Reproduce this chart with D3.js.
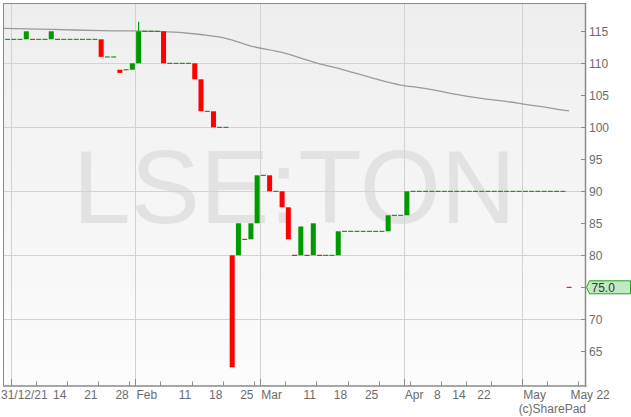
<!DOCTYPE html>
<html><head><meta charset="utf-8">
<script src="https://cdn.jsdelivr.net/npm/d3@7"></script>
<style>
body{margin:0;background:#fff;}
svg{display:block;font-family:"Liberation Sans",Arial,sans-serif;}
</style>
</head><body>
<svg id="chart" width="631" height="417"></svg>
<script>
// ---- data ----
const dates = ["2021-12-31",
"2022-01-04","2022-01-05","2022-01-06","2022-01-07","2022-01-10","2022-01-11","2022-01-12","2022-01-13","2022-01-14","2022-01-17","2022-01-18","2022-01-19","2022-01-20","2022-01-21","2022-01-24","2022-01-25","2022-01-26","2022-01-27","2022-01-28","2022-01-31",
"2022-02-01","2022-02-02","2022-02-03","2022-02-04","2022-02-07","2022-02-08","2022-02-09","2022-02-10","2022-02-11","2022-02-14","2022-02-15","2022-02-16","2022-02-17","2022-02-18","2022-02-21","2022-02-22","2022-02-23","2022-02-24","2022-02-25","2022-02-28",
"2022-03-01","2022-03-02","2022-03-03","2022-03-04","2022-03-07","2022-03-08","2022-03-09","2022-03-10","2022-03-11","2022-03-14","2022-03-15","2022-03-16","2022-03-17","2022-03-18","2022-03-21","2022-03-22","2022-03-23","2022-03-24","2022-03-25","2022-03-28","2022-03-29","2022-03-30","2022-03-31",
"2022-04-01","2022-04-04","2022-04-05","2022-04-06","2022-04-07","2022-04-08","2022-04-11","2022-04-12","2022-04-13","2022-04-14","2022-04-19","2022-04-20","2022-04-21","2022-04-22","2022-04-25","2022-04-26","2022-04-27","2022-04-28","2022-04-29",
"2022-05-03","2022-05-04","2022-05-05","2022-05-06","2022-05-09","2022-05-10","2022-05-11","2022-05-12"];

const opens = [113.75,113.75,113.75,113.75,113.75,113.75,113.75,113.75,113.75,113.75,
113.75,113.75,113.75,113.75,113.75,113.75,111,111,109,109,
109,110,115,115,115,115,110,110,110,110,
110,107.5,102.5,102.5,100,100,80,80,82.5,82.5,
85,92.5,92.5,90,90,87.5,80,80,80,80,
80,80,80,80,83.75,83.75,83.75,83.75,83.75,83.75,
83.75,83.75,86.25,86.25,86.25,90,90,90,90,90,
90,90,90,90,90,90,90,90,90,90,
90,90,90,90,90,90,90,90,90,90,
75];

const closes = [113.75,113.75,113.75,115,113.75,113.75,113.75,115,113.75,113.75,
113.75,113.75,113.75,113.75,113.75,111,111,111,108.5,109,
110,115,115,115,115,110,110,110,110,110,
107.5,102.5,102.5,100,100,100,62.5,85,82.5,85,
92.5,92.5,90,90,87.5,82.5,80,84.5,80,85,
80,80,80,83.75,83.75,83.75,83.75,83.75,83.75,83.75,
83.75,86.25,86.25,86.25,90,90,90,90,90,90,
90,90,90,90,90,90,90,90,90,90,
90,90,90,90,90,90,90,90,90,90,
75];

const highs = [113.75,113.75,113.75,115,113.75,113.75,113.75,115,113.75,113.75,
113.75,113.75,113.75,113.75,113.75,113.75,111,111,109,109,
110,116.5,115,115,115,115,110,110,110,110,
110,107.5,102.5,102.5,100,100,80,85,82.5,85,
92.5,92.5,92.5,90,90,87.5,80,84.5,80,85,
80,80,80,83.75,83.75,83.75,83.75,83.75,83.75,83.75,
83.75,86.25,86.25,86.25,90,90,90,90,90,90,
90,90,90,90,90,90,90,90,90,90,
90,90,90,90,90,90,90,90,90,90,
75];

// moving average read at sampled trading-day indexes
const maIndex  = [-1, 7, 15, 24, 31, 35, 39, 44, 49, 54, 59, 63, 66, 74, 82, 90];
const maValues = [115.45,115.3,115.1,115.0,114.5,113.9,112.7,111.7,110.2,108.95,107.55,106.6,106.2,104.8,103.75,102.55];

const yTicks = [65,70,75,80,85,90,95,100,105,110,115];
const yGrid = [70,80,90,100,110];
const monthTickIndex = [1,21,41,64,83];
const monthTickLabels = ["31/12/21","Feb","Mar","Apr","May"];
const weekTickIndex = [5,10,15,20,25,30,35,40,45,50,55,60,65,70,74,78,87,92];
const weekTickLabels = ["","14","21","28","","11","18","25","","11","18","25","","8","14","22","",""];
const endLabel = "May 22";
const lastPrice = 75.0;
const watermark = "LSE:TON";
const credit = "(c)SharePad";

// ---- layout ----
const svg = d3.select("#chart");
const P = {left:3, top:3, right:585.5, bottom:386};
const x = d3.scaleLinear().domain([1,83]).range([10.7,522.3]);   // trading-day boundary scale
const y = d3.scaleLinear().domain([65,115]).range([351.3,31.3]);
const cw = 5;
const green = "#009a00", red = "#ff0000";

const defs = svg.append("defs");
const grad = defs.append("linearGradient").attr("id","bg").attr("x1",0).attr("y1",0).attr("x2",0).attr("y2",1);
grad.append("stop").attr("offset","0%").attr("stop-color","#eeeeee");
grad.append("stop").attr("offset","100%").attr("stop-color","#fcfcfc");
defs.append("clipPath").attr("id","clip").append("rect")
  .attr("x",P.left).attr("y",P.top).attr("width",P.right-P.left).attr("height",P.bottom-P.top);

svg.append("rect").attr("x",P.left).attr("y",P.top).attr("width",P.right-P.left).attr("height",P.bottom-P.top).attr("fill","url(#bg)");

// watermark
svg.append("text").attr("x",(P.left+P.right)/2).attr("y",223)
  .attr("text-anchor","middle").attr("font-size",104).attr("fill","#e2e2e2").text(watermark);

// grid
const g = svg.append("g").attr("clip-path","url(#clip)");
g.selectAll(".hg").data(yGrid).join("line")
  .attr("x1",P.left).attr("x2",P.right).attr("y1",d=>Math.round(y(d))+0.5).attr("y2",d=>Math.round(y(d))+0.5)
  .attr("stroke","#d2d2d2").attr("stroke-width",1);
g.selectAll(".vg").data(monthTickIndex).join("line")
  .attr("x1",d=>Math.round(x(d))+0.5).attr("x2",d=>Math.round(x(d))+0.5).attr("y1",P.top).attr("y2",P.bottom)
  .attr("stroke","#d2d2d2").attr("stroke-width",1);

// moving average
const maData = maIndex.map((k,i)=>[k,maValues[i]]);
g.append("path").datum(maData)
  .attr("d",d3.line().x(d=>x(d[0]+0.5)).y(d=>y(d[1])).curve(d3.curveMonotoneX))
  .attr("fill","none").attr("stroke","#9a9a9a").attr("stroke-width",1.3);

// candles
const candles = dates.map((d,k)=>({k, o:opens[k], c:closes[k], h:highs[k], prev: k>0?closes[k-1]:closes[k]}));
const colorOf = d => d.c>d.o ? green : d.c<d.o ? red : (d.c<d.prev ? red : green);
g.selectAll(".wick").data(candles.filter(d=>d.h>Math.max(d.o,d.c))).join("line")
  .attr("x1",d=>x(d.k+0.5)).attr("x2",d=>x(d.k+0.5))
  .attr("y1",d=>y(d.h)).attr("y2",d=>y(Math.max(d.o,d.c)))
  .attr("stroke",colorOf).attr("stroke-width",1.2);
g.selectAll(".body").data(candles).join("rect")
  .attr("x",d=>x(d.k+0.5)-cw/2).attr("width",cw)
  .attr("y",d=> d.o===d.c ? y(d.c)-0.5 : y(Math.max(d.o,d.c)))
  .attr("height",d=> d.o===d.c ? 1.1 : Math.abs(y(d.o)-y(d.c)))
  .attr("fill",colorOf);

// borders / axes
const axisCol = "#8a8a8a";
svg.append("line").attr("x1",P.left).attr("x2",P.right).attr("y1",P.top+0.5).attr("y2",P.top+0.5).attr("stroke",axisCol);
svg.append("line").attr("x1",P.left+0.5).attr("x2",P.left+0.5).attr("y1",P.top).attr("y2",P.bottom).attr("stroke",axisCol);
svg.append("line").attr("x1",P.right).attr("x2",P.right).attr("y1",P.top).attr("y2",P.bottom+1).attr("stroke",axisCol).attr("stroke-width",1.5);
svg.append("line").attr("x1",P.left).attr("x2",P.right+1).attr("y1",P.bottom).attr("y2",P.bottom).attr("stroke",axisCol).attr("stroke-width",1.5);

const txtCol = "#6b6b6b";
// y ticks (the label at the last price is covered by the price marker)
svg.selectAll(".yt").data(yTicks).join("line")
  .attr("x1",P.right-4.5).attr("x2",P.right).attr("y1",d=>Math.round(y(d))+0.5).attr("y2",d=>Math.round(y(d))+0.5)
  .attr("stroke",axisCol);
svg.selectAll(".yl").data(yTicks.filter(v=>v!==lastPrice)).join("text")
  .attr("x",P.right+3.5).attr("y",d=>y(d)).attr("dy","0.36em")
  .attr("font-size",12).attr("fill",txtCol).text(d=>d);

// x ticks
svg.selectAll(".wt").data(weekTickIndex).join("line")
  .attr("x1",d=>Math.round(x(d))+0.5).attr("x2",d=>Math.round(x(d))+0.5).attr("y1",P.bottom-4.5).attr("y2",P.bottom)
  .attr("stroke",axisCol);
svg.selectAll(".mt").data(monthTickIndex).join("line")
  .attr("x1",d=>Math.round(x(d))+0.5).attr("x2",d=>Math.round(x(d))+0.5).attr("y1",P.bottom-7).attr("y2",P.bottom)
  .attr("stroke",axisCol);
svg.selectAll(".wl").data(weekTickIndex).join("text")
  .attr("x",d=>x(d)-0.5).attr("y",399).attr("text-anchor","end")
  .attr("font-size",12).attr("fill",txtCol).text((d,i)=>weekTickLabels[i]);
svg.selectAll(".ml").data(monthTickIndex).join("text")
  .attr("x",d=>x(d)+1).attr("y",399).attr("text-anchor","start")
  .attr("font-size",12).attr("fill",txtCol).text((d,i)=>monthTickLabels[i])
  .each(function(d,i){ if(i===0){ const w=this.getComputedTextLength(); d3.select(this).attr("x",Math.max(1,x(d)-w/2)); }});
svg.append("text").attr("x",x(weekTickIndex[weekTickIndex.length-1])-8).attr("y",399)
  .attr("font-size",12).attr("fill",txtCol).text(endLabel);
svg.append("text").attr("x",P.right+0.5).attr("y",413).attr("text-anchor","end")
  .attr("font-size",12).attr("fill",txtCol).text(credit);

// last price marker
const ly = y(lastPrice);
svg.append("path")
  .attr("d",`M${P.right+1},${ly} L${P.right+4},${ly-6.5} L630.5,${ly-6.5} L630.5,${ly+6.5} L${P.right+4},${ly+6.5} Z`)
  .attr("fill","#c3e9c3").attr("stroke","#22a022").attr("stroke-width",1);
svg.append("text").attr("x",P.right+6).attr("y",ly).attr("dy","0.36em")
  .attr("font-size",12).attr("fill","#333").text(lastPrice.toFixed(1));
</script>
</body></html>
